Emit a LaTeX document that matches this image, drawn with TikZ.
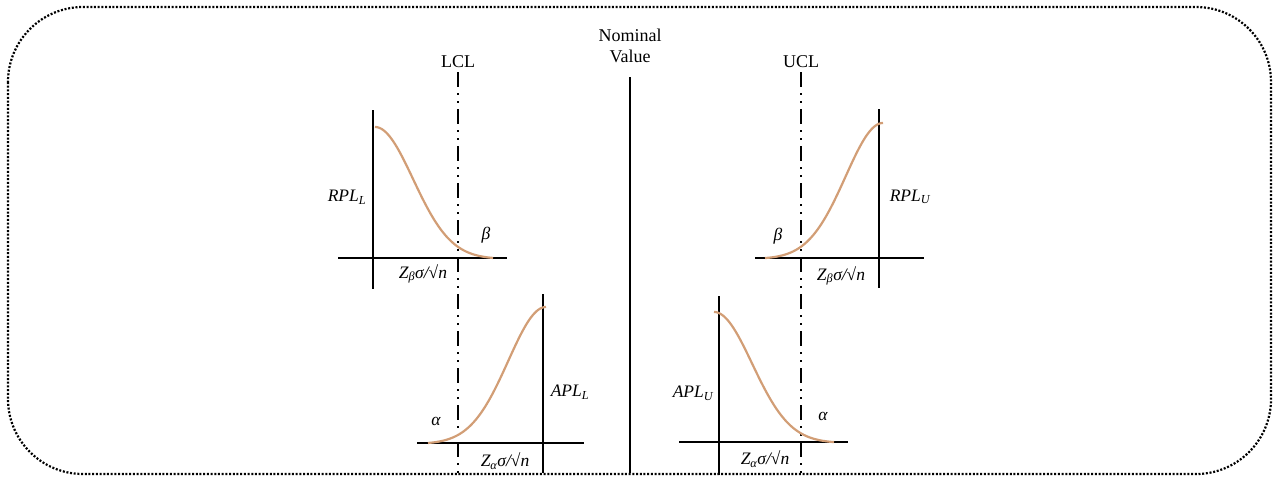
\documentclass[tikz,border=0pt]{standalone}
\usepackage{fontspec}
\setmainfont{Liberation Serif}
\begin{document}
\begin{tikzpicture}[x=1pt,y=-1pt,
  frame/.style={line width=2.2pt, dash pattern=on 2pt off 1.7pt, rounded corners=75pt},
  axis/.style={line width=1.5pt},
  limline/.style={line width=1.5pt, dash pattern=on 15pt off 6pt on 1.6pt off 6.4pt on 1.6pt off 6.4pt},
  curve/.style={line width=2.2pt, color=curvecol},
  lbl/.style={font=\fontsize{18}{20.5}\selectfont, inner sep=0pt},
  lab/.style={font=\fontsize{17.5}{19}\selectfont\itshape, inner sep=0pt}
]
\definecolor{curvecol}{RGB}{210,158,118}
\useasboundingbox (0,0) rectangle (1273,477);
\draw[frame] (8,7) rectangle (1271,474);

% titles
\node[lbl, align=center] (nom) at (630,46) {Nominal\\Value};
\node[lbl] (lcl) at (458,62) {LCL};
\node[lbl] (ucl) at (801,62) {UCL};

% limit lines
\coordinate (lclb) at (458,473);
\coordinate (uclb) at (801,473);
\coordinate (nomb) at (630,473);
\draw[limline] (lcl.south) ++(0,4) -- (lclb);
\draw[limline] (ucl.south) ++(0,4) -- (uclb);
\draw[axis] (630,77) -- (nomb);

% top-left chart
\coordinate (a1t) at (373,110); \coordinate (a1b) at (373,289);
\coordinate (h1l) at (338,258); \coordinate (h1r) at (507,258);
\draw[axis] (a1t) -- (a1b);
\draw[axis] (h1l) -- (h1r);
\draw[curve] plot[domain=0:118, samples=80, smooth] ({375+\x},{259-132*exp(-\x*\x/2888)});
\node[lab] (rpll) at (347,197) {RPL\textsubscript{L}};
\node[lab] (b1) at (486,235) {β};
\node[lab] (z1) at (423,274) {Z\textsubscript{β}σ/√n};

% top-right chart
\coordinate (a2t) at (879,109); \coordinate (a2b) at (879,288);
\coordinate (h2l) at (755,258); \coordinate (h2r) at (924,258);
\draw[axis] (a2t) -- (a2b);
\draw[axis] (h2l) -- (h2r);
\draw[curve] plot[domain=0:118, samples=80, smooth] ({883-\x},{259-136*exp(-\x*\x/2800)});
\node[lab] (rplu) at (910,197) {RPL\textsubscript{U}};
\node[lab] (b2) at (778,236) {β};
\node[lab] (z2) at (841,276) {Z\textsubscript{β}σ/√n};

% bottom-left chart
\coordinate (a3t) at (543,294); \coordinate (a3b) at (543,473);
\coordinate (h3l) at (417,443); \coordinate (h3r) at (584,443);
\draw[axis] (a3t) -- (a3b);
\draw[axis] (h3l) -- (h3r);
\draw[curve] plot[domain=0:118, samples=80, smooth] ({546-\x},{444-137*exp(-\x*\x/2850)});
\node[lab] (apll) at (570,392) {APL\textsubscript{L}};
\node[lab] (al1) at (436,421) {α};
\node[lab] (z3) at (505,461) {Z\textsubscript{α}σ/√n};

% bottom-right chart
\coordinate (a4t) at (719,296); \coordinate (a4b) at (719,475);
\coordinate (h4l) at (679,442); \coordinate (h4r) at (848,442);
\draw[axis] (a4t) -- (a4b);
\draw[axis] (h4l) -- (h4r);
\draw[curve] plot[domain=0:120, samples=80, smooth] ({714+\x},{443-131*exp(-\x*\x/2900)});
\node[lab] (aplu) at (693,393) {APL\textsubscript{U}};
\node[lab] (al2) at (823,416) {α};
\node[lab] (z4) at (765,459) {Z\textsubscript{α}σ/√n};
\end{tikzpicture}
\end{document}
